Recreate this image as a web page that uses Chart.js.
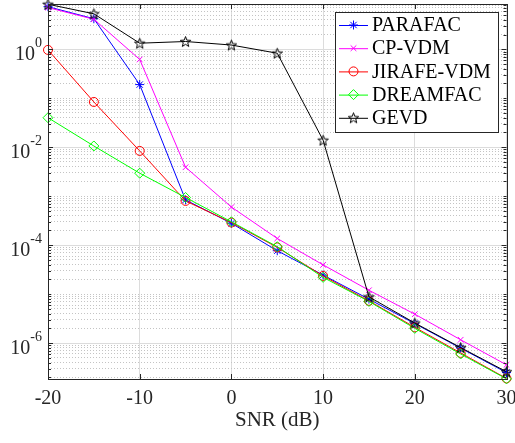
<!DOCTYPE html>
<html>
<head>
<meta charset="utf-8">
<script src="https://cdn.jsdelivr.net/npm/chart.js@4/dist/chart.umd.min.js"></script>
<style>
    html, body { margin: 0; padding: 0; background: #fff; }
    #box { width: 515px; height: 443px; position: relative; overflow: hidden; }
</style>
</head>
<body>
<div id="box"><canvas id="snrChart"></canvas></div>
<script>
const snr = [-20, -15, -10, -5, 0, 5, 10, 15, 20, 25, 30];
const parafac = [7.4, 4.2, 0.19, 8.4e-4, 2.8e-4, 7.7e-5, 2.45e-5, 7.9e-6, 2.5e-6, 7.9e-7, 2.5e-7];
const cpVdm = [7.1, 4.1, 0.62, 3.9e-3, 6.0e-4, 1.37e-4, 3.96e-5, 1.2e-5, 3.9e-6, 1.17e-6, 3.6e-7];
const jirafeVdm = [0.97, 0.084, 0.0084, 8.0e-4, 2.9e-4, 9.0e-5, 2.35e-5, 7.3e-6, 2.1e-6, 6.3e-7, 1.9e-7];
const dreamfac = [0.040, 0.0106, 2.95e-3, 9.4e-4, 3.0e-4, 9.3e-5, 2.2e-5, 7.1e-6, 2.0e-6, 6.0e-7, 1.86e-7];
const gevd = [8.3, 5.3, 1.33, 1.44, 1.22, 0.83, 0.0139, 8.8e-6, 2.57e-6, 8.1e-7, 2.6e-7];

const seriesNames = ['PARAFAC', 'CP-VDM', 'JIRAFE-VDM', 'DREAMFAC', 'GEVD'];
const xTicks = [-20, -10, 0, 10, 20, 30];
const yLabelExps = [0, -2, -4, -6];
const xTitle = 'SNR (dB)';

const FONT = "'Liberation Serif', 'DejaVu Serif', serif";
const AXIS_COLOR = '#262626';

function makePentagram(r) {
    const s = Math.ceil(r * 2 + 4);
    const c = document.createElement('canvas');
    c.width = s;
    c.height = s;
    const g = c.getContext('2d');
    g.beginPath();
    for (let i = 0; i < 10; i++) {
        const rad = i % 2 === 0 ? r : r * 0.42;
        const a = -Math.PI / 2 + i * Math.PI / 5;
        const px = s / 2 + rad * Math.cos(a);
        const py = s / 2 + 0.5 + rad * Math.sin(a);
        if (i === 0) g.moveTo(px, py); else g.lineTo(px, py);
    }
    g.closePath();
    g.strokeStyle = '#000';
    g.lineWidth = 1;
    g.stroke();
    return c;
}

const pentagram = makePentagram(5.5);

function toPoints(values) {
    return values.map((v, i) => ({ x: snr[i], y: v }));
}

function isMajor(v) {
    const e = Math.round(Math.log10(v));
    return Math.abs(v - Math.pow(10, e)) < 1e-12 * Math.pow(10, e) && yLabelExps.includes(e);
}

const styles = [
    { color: '#0000ff', point: 'star', radius: 4.5 },
    { color: '#ff00ff', point: 'crossRot', radius: 4 },
    { color: '#ff0000', point: 'circle', radius: 4.5 },
    { color: '#00ff00', point: 'rectRot', radius: 5 },
    { color: '#000000', point: pentagram, radius: 5 }
];

const allSeries = [parafac, cpVdm, jirafeVdm, dreamfac, gevd];

const datasets = allSeries.map((values, i) => ({
    label: seriesNames[i],
    data: toPoints(values),
    borderColor: styles[i].color,
    backgroundColor: styles[i].color,
    borderWidth: 1,
    pointStyle: styles[i].point,
    pointRadius: styles[i].radius,
    pointBorderWidth: 1,
    pointBorderColor: styles[i].color,
    pointBackgroundColor: 'rgba(0,0,0,0)',
    tension: 0,
    clip: 8,
    order: allSeries.length - i
}));

function drawMarker(ctx, style, x, y) {
    if (Chart.helpers && Chart.helpers.drawPoint) {
        Chart.helpers.drawPoint(ctx, {
            pointStyle: style.point,
            radius: style.radius,
            rotation: 0,
            borderWidth: 1
        }, x, y);
    }
}

// MATLAB-like box, inward ticks, axis labels and legend inside the axes
const frameAndLegend = {
    id: 'frameAndLegend',
    afterDraw(chart) {
        const { ctx, chartArea: area, scales } = chart;
        const xs = scales.x;
        const ys = scales.y;
        ctx.save();

        ctx.strokeStyle = AXIS_COLOR;
        ctx.lineWidth = 1;
        ctx.strokeRect(Math.round(area.left) + 0.5, Math.round(area.top) + 0.5,
            Math.round(area.right - area.left), Math.round(area.bottom - area.top));

        ctx.beginPath();
        xTicks.forEach(v => {
            const px = Math.round(xs.getPixelForValue(v)) + 0.5;
            ctx.moveTo(px, area.bottom);
            ctx.lineTo(px, area.bottom - 5);
            ctx.moveTo(px, area.top);
            ctx.lineTo(px, area.top + 5);
        });
        ys.ticks.forEach(t => {
            const py = Math.round(ys.getPixelForValue(t.value)) + 0.5;
            const len = isMajor(t.value) ? 5 : 3;
            ctx.moveTo(area.left, py);
            ctx.lineTo(area.left + len, py);
            ctx.moveTo(area.right, py);
            ctx.lineTo(area.right - len, py);
        });
        ctx.stroke();

        // x tick labels and title
        ctx.fillStyle = AXIS_COLOR;
        ctx.textAlign = 'center';
        ctx.textBaseline = 'middle';
        ctx.font = `20px ${FONT}`;
        xTicks.forEach(v => {
            ctx.fillText(String(v), xs.getPixelForValue(v), area.bottom + 19.5);
        });
        ctx.font = `21px ${FONT}`;
        ctx.fillText(xTitle, (area.left + area.right) / 2, area.bottom + 41.5);

        // y tick labels as 10 with a raised exponent
        ctx.textAlign = 'right';
        ctx.textBaseline = 'alphabetic';
        yLabelExps.forEach(e => {
            const py = ys.getPixelForValue(Math.pow(10, e));
            const xr = area.left - 6;
            const sup = e === 0 ? '0' : '-' + Math.abs(e);
            ctx.font = `14px ${FONT}`;
            const supW = ctx.measureText(sup).width;
            ctx.fillText(sup, xr, py - 2);
            ctx.font = `20px ${FONT}`;
            ctx.fillText('10', xr - supW, py + 10.5);
        });

        const lw = 163;
        const lh = 120;
        const lx = area.right - 8.5 - lw;
        const ly = area.top + 8;
        ctx.fillStyle = '#fff';
        ctx.fillRect(lx, ly, lw, lh);
        ctx.strokeStyle = AXIS_COLOR;
        ctx.strokeRect(Math.round(lx) + 0.5, Math.round(ly) + 0.5, lw, lh);
        ctx.font = `20px ${FONT}`;
        ctx.textAlign = 'left';
        ctx.textBaseline = 'middle';
        seriesNames.forEach((name, i) => {
            const cy = ly + 13 + i * 23.2;
            ctx.strokeStyle = styles[i].color;
            ctx.lineWidth = 1;
            ctx.beginPath();
            ctx.moveTo(lx + 4, cy + 0.5);
            ctx.lineTo(lx + 33, cy + 0.5);
            ctx.stroke();
            ctx.fillStyle = 'rgba(0,0,0,0)';
            drawMarker(ctx, styles[i], lx + 18.5, cy);
            ctx.fillStyle = '#000';
            ctx.fillText(name, lx + 37, cy + 1);
        });
        ctx.restore();
    }
};

new Chart(document.getElementById('snrChart'), {
    type: 'line',
    data: { datasets: datasets },
    options: {
        responsive: true,
        maintainAspectRatio: false,
        animation: false,
        layout: {
            autoPadding: false,
            padding: { top: 4, bottom: 0, left: 0, right: 8.5 }
        },
        plugins: {
            legend: { display: false },
            tooltip: { enabled: false }
        },
        scales: {
            x: {
                type: 'linear',
                min: -20,
                max: 30,
                afterBuildTicks: scale => {
                    scale.ticks = xTicks.map(v => ({ value: v }));
                },
                afterFit: scale => {
                    scale.height = 64;
                },
                ticks: { display: false },
                grid: {
                    drawTicks: false,
                    color: '#dcdcdc',
                    lineWidth: 1
                },
                border: { display: false }
            },
            y: {
                type: 'logarithmic',
                min: 1.85e-7,
                max: 8.4,
                afterBuildTicks: scale => {
                    const ticks = [];
                    for (let e = -7; e <= 0; e++) {
                        for (let m = 1; m <= 9; m++) {
                            const v = m * Math.pow(10, e);
                            if (v >= scale.min && v <= scale.max) ticks.push({ value: v });
                        }
                    }
                    scale.ticks = ticks;
                },
                afterFit: scale => {
                    scale.width = 48;
                },
                ticks: { display: false },
                grid: {
                    drawTicks: false,
                    color: ctx => isMajor(ctx.tick.value) ? '#dcdcdc' : '#c4c4c4',
                    lineWidth: 1
                },
                border: {
                    display: false,
                    dash: ctx => (ctx.tick && isMajor(ctx.tick.value)) ? [] : [1, 2]
                }
            }
        }
    },
    plugins: [frameAndLegend]
});
</script>
</body>
</html>
